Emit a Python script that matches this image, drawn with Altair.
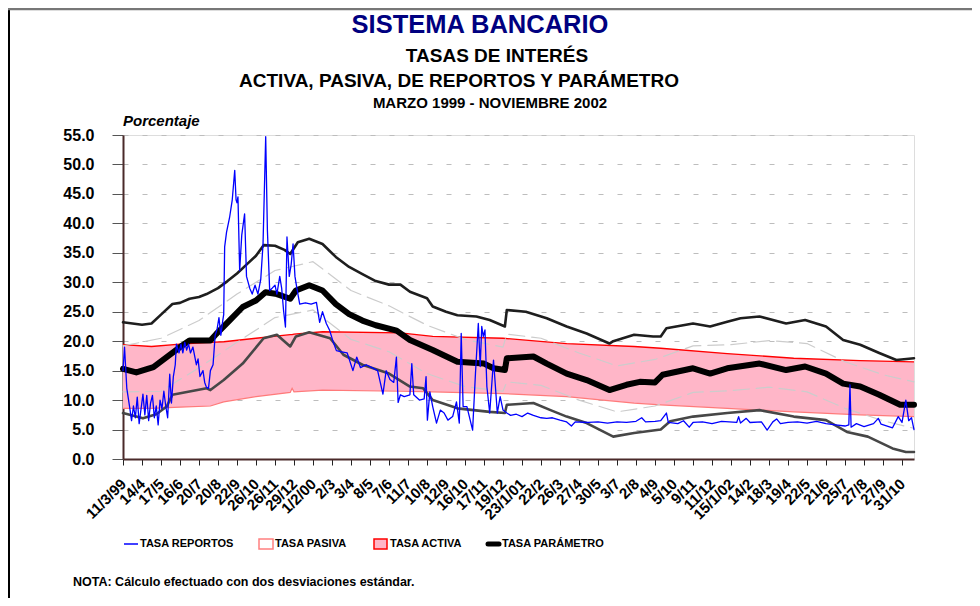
import altair as alt
import pandas as pd

# ---------------- data ----------------
X_LABELS = ["11/3/99", "14/4", "17/5", "16/6", "20/7", "20/8", "22/9", "26/10", "26/11",
            "29/12", "1/2/00", "2/3", "3/4", "8/5", "7/6", "11/7", "10/8", "12/9", "16/10",
            "17/11", "19/12", "23/1/01", "22/2", "26/3", "27/4", "30/5", "3/7", "2/8", "4/9",
            "5/10", "9/11", "11/12", "15/1/02", "14/2", "18/3", "19/4", "22/5", "21/6",
            "25/7", "27/8", "27/9", "31/10"]
X_END = 41.63

BAND_T = [0, 1.5, 3, 4.6, 5.3, 7.0, 8.8, 8.9, 9.0, 10.5, 14.6, 16.3, 20, 23.35, 26.9, 28.3,
          31.8, 35.3, 38.8, 41.63]
ACTIVA = [19.4, 19.1, 19.5, 19.8, 19.9, 20.5, 21.1, 21.1, 21.2, 21.6, 21.4, 20.8, 20.5,
          19.6, 19.1, 18.8, 17.9, 17.1, 16.7, 16.5]
PASIVA = [8.6, 8.6, 8.8, 9.0, 9.7, 10.6, 11.3, 12.0, 11.4, 11.7, 11.5, 11.4, 11.1, 10.6,
          9.5, 9.2, 8.6, 8.0, 7.5, 7.2]

PARAM_T = [0, 0.7, 1.6, 2.3, 3, 3.5, 4.6, 4.9, 5.6, 6.3, 7.0, 7.5, 8.1, 8.8, 9.1, 9.8,
           10.5, 11.2, 11.9, 12.6, 13.3, 14.4, 15.1, 16.3, 17.6, 19, 19.5, 20.1, 20.2,
           21.6, 22.3, 23.35, 24.4, 25.6, 26.5, 27.2, 28.0, 28.4, 30, 30.9, 31.8, 33.5,
           34.9, 35.9, 37, 37.9, 38.8, 39.8, 40.9, 41.63]
PARAM = [15.3, 14.7, 15.6, 17.3, 19.0, 20.1, 20.1, 21.2, 23.5, 25.8, 26.9, 28.3, 28.0,
         27.2, 28.6, 29.5, 28.6, 26.3, 24.6, 23.5, 22.7, 21.8, 20.2, 18.5, 16.5, 16.2,
         15.4, 15.1, 17.1, 17.4, 16.2, 14.5, 13.4, 11.7, 12.6, 13.1, 13.0, 14.3, 15.4,
         14.5, 15.4, 16.2, 15.1, 15.7, 14.5, 12.8, 12.3, 10.9, 9.2, 9.2]

UP2_T = [0, 1, 1.5, 2, 2.6, 3, 3.5, 4, 4.4, 5, 5.5, 6, 6.5, 7, 7.4, 8, 8.5, 8.8, 9.2,
         9.8, 10.5, 11.2, 11.9, 12.6, 13.3, 14, 14.6, 15.1, 16, 16.3, 17, 17.6, 18.6,
         19.3, 20.1, 20.2, 21.2, 22.3, 23.35, 24.4, 25.6, 25.8, 26.9, 27.9, 28.3, 28.6,
         30, 30.9, 31.8, 32.5, 33.5, 34.9, 35.9, 37, 37.9, 38.8, 39.8, 40.7, 41.63]
UP2 = [23.2, 22.8, 23.0, 24.5, 26.3, 26.5, 27.2, 27.5, 28.0, 29.0, 30.2, 31.5, 33.0,
       34.5, 36.3, 36.2, 35.5, 34.8, 36.8, 37.4, 36.5, 34.3, 32.6, 31.4, 30.2, 29.6,
       29.6, 28.4, 27.3, 25.9, 25.0, 24.4, 24.2, 23.6, 22.5, 25.3, 25.0, 23.9, 22.5,
       21.3, 19.6, 20.0, 21.1, 20.8, 20.8, 22.2, 23.0, 22.5, 23.3, 23.9, 24.2, 23.0,
       23.6, 22.5, 20.2, 19.4, 18.0, 16.8, 17.1]

LOW2_T = [0, 1.05, 1.75, 2.3, 2.6, 4.4, 4.6, 5.3, 6.3, 7.4, 8.1, 8.8, 9.1, 9.8, 10.9,
          11.6, 12.6, 14.0, 15.1, 15.8, 16.3, 17.6, 19.3, 20.1, 20.2, 21.6, 22.5, 23.35,
          24.4, 25.8, 26.9, 28.3, 28.8, 30, 31.8, 33.5, 35.3, 37, 38.1, 39.2, 40.5, 41.2,
          41.63]
LOW2 = [7.8, 6.9, 7.6, 8.9, 10.9, 12.0, 11.7, 13.4, 16.2, 20.5, 21.1, 19.1, 20.8, 21.5,
        20.5, 17.7, 16.0, 14.5, 12.3, 12.0, 10.0, 8.6, 8.0, 7.8, 9.2, 9.5, 8.3, 7.2, 6.1,
        3.8, 4.4, 5.0, 6.4, 7.2, 7.8, 8.3, 7.2, 6.6, 4.6, 3.8, 1.8, 1.2, 1.2]

SD1_T = [0, 2, 4, 6, 8, 10, 12, 14, 16, 18, 20, 20.2, 22, 24, 26, 28, 30, 32, 34, 36, 38,
         40, 41.63]
UP1 = [19.2, 20.5, 23.5, 28.0, 32.0, 33.5, 28.6, 26.0, 22.7, 20.3, 19.0, 21.2, 20.5, 18.0,
       15.8, 16.9, 19.2, 19.4, 20.1, 19.6, 16.5, 14.3, 13.1]
LOW1 = [11.4, 11.5, 15.5, 19.8, 24.0, 25.3, 20.3, 18.2, 14.5, 12.3, 11.5, 13.1, 12.5, 10.0,
        8.0, 9.0, 11.3, 11.6, 12.2, 11.4, 8.6, 6.5, 5.2]

REP_T = [0.0, 0.08, 0.2, 0.35, 0.45, 0.55, 0.65, 0.75, 0.85, 0.95, 1.05, 1.15, 1.25, 1.35,
         1.45, 1.55, 1.65, 1.75, 1.85, 1.95, 2.05, 2.15, 2.25, 2.35, 2.46, 2.55, 2.65,
         2.75, 2.81, 2.95, 3.05, 3.15, 3.25, 3.35, 3.45, 3.55, 3.68, 3.86, 3.95, 4.05,
         4.21, 4.3, 4.39, 4.5, 4.6, 4.74, 4.85, 4.95, 5.05, 5.15, 5.25, 5.3, 5.35, 5.45,
         5.61, 5.75, 5.88, 5.95, 6.0, 6.05, 6.14, 6.25, 6.4, 6.5, 6.67, 6.8, 6.95, 7.1,
         7.25, 7.37, 7.51, 7.6, 7.72, 7.85, 8.0, 8.1, 8.25, 8.35, 8.45, 8.55, 8.63, 8.75,
         8.85, 8.95, 9.05, 9.15, 9.3, 9.6, 9.9, 10.18, 10.35, 10.5, 10.7, 10.88, 11.05,
         11.23, 11.5, 11.8, 12.1, 12.3, 12.5, 12.8, 13.1, 13.4, 13.68, 13.85, 14.05,
         14.25, 14.39, 14.48, 14.6, 14.8, 15.1, 15.2, 15.3, 15.6, 15.85, 15.95, 16.02,
         16.15, 16.3, 16.5, 16.7, 16.9, 17.1, 17.35, 17.55, 17.7, 17.8, 17.9, 18.1, 18.4,
         18.55, 18.7, 18.8, 18.88, 18.96, 19.05, 19.15, 19.3, 19.5, 19.7, 19.85, 20.0,
         20.2, 20.4, 20.7, 21.0, 21.3, 21.6, 22.0, 22.3, 22.6, 23.0, 23.35, 23.6, 23.8,
         24.5, 25.0, 25.5, 26.0, 26.5, 27.0, 27.3, 27.5, 28.0, 28.3, 28.6, 28.7, 29.2,
         29.5, 29.8, 30.0, 30.5, 31.0, 31.5, 32.3, 32.4, 32.5, 32.8, 33.0, 33.6, 33.9,
         34.2, 34.4, 34.6, 35.0, 35.5, 36.0, 36.5, 37.0, 37.5, 38.0, 38.2, 38.26, 38.32,
         38.6, 39.0, 39.5, 39.75, 39.9, 40.5, 40.8, 41.0, 41.2, 41.35, 41.5, 41.63]
REPORTOS = [15.0, 19.0, 12.0, 8.8, 6.5, 9.0, 7.0, 10.5, 6.0, 8.5, 11.0, 7.5, 10.8, 6.5,
            9.5, 10.8, 7.0, 9.0, 5.8, 10.0, 8.5, 11.5, 9.0, 7.0, 14.4, 9.5, 14.0, 16.0,
            19.5, 18.0, 19.5, 18.0, 19.8, 18.5, 19.5, 18.0, 19.0, 16.0, 17.0, 14.0, 15.0,
            13.0, 12.2, 12.0, 15.0, 16.0, 21.0, 22.0, 24.0, 21.0, 23.5, 24.5, 36.0, 38.5,
            41.0, 44.0, 49.0, 44.0, 43.5, 44.5, 32.0, 38.0, 41.6, 31.0, 29.0, 28.0, 29.5,
            28.0, 30.5, 36.5, 54.7, 38.8, 28.6, 29.0, 29.5, 28.0, 31.0, 29.0, 25.2, 22.4,
            37.7, 31.0, 33.0, 36.5, 31.0, 29.0, 26.3, 26.5, 26.3, 26.6, 23.2, 25.0, 23.0,
            21.8, 20.0, 18.4, 18.2, 18.0, 15.0, 17.3, 15.5, 16.0, 15.5, 15.0, 11.0, 15.0,
            13.5, 13.0, 17.3, 9.6, 10.9, 10.6, 10.9, 16.2, 10.9, 10.0, 10.2, 14.0, 6.6,
            11.4, 8.9, 6.1, 8.3, 7.8, 6.6, 7.2, 9.7, 6.1, 21.3, 8.9, 8.9, 4.9, 14.5, 23.0,
            15.7, 22.5, 20.8, 21.9, 12.3, 7.8, 16.8, 7.8, 10.6, 8.3, 7.8, 7.4, 7.6, 7.2,
            7.8, 7.4, 7.0, 6.9, 7.0, 6.6, 6.3, 5.6, 6.3, 6.2, 6.3, 6.1, 6.3, 6.2, 6.4, 7.0,
            6.3, 6.4, 6.5, 7.8, 6.2, 6.0, 6.5, 5.4, 6.2, 6.3, 6.0, 6.4, 6.2, 7.2, 6.1, 6.9,
            6.2, 6.3, 4.9, 6.3, 6.8, 6.0, 6.2, 6.3, 6.1, 6.4, 6.0, 5.8, 5.6, 5.8, 12.6, 5.4,
            6.0, 5.5, 6.0, 6.9, 5.9, 5.3, 7.2, 6.2, 10.0, 6.5, 7.0, 5.0]

LEGEND_NAMES = ["TASA REPORTOS", "TASA PASIVA", "TASA ACTIVA", "TASA PARÁMETRO"]
TITLE = "SISTEMA BANCARIO"
SUBTITLE_1 = "TASAS DE INTERÉS"
SUBTITLE_2 = "ACTIVA, PASIVA, DE REPORTOS Y  PARÁMETRO"
SUBTITLE_3 = "MARZO 1999 - NOVIEMBRE 2002"
Y_TITLE = "Porcentaje"
NOTE = "NOTA: Cálculo efectuado con dos desviaciones estándar."

# ---------------- chart ----------------
FONT = "Liberation Sans"
W, H = 791, 324

xs = alt.Scale(domain=[0, X_END], nice=False, zero=False)
ys = alt.Scale(domain=[0, 55], nice=False)

label_js = "[" + ",".join("'" + s + "'" for s in X_LABELS) + "][datum.value]"

x_axis = alt.Axis(values=list(range(len(X_LABELS))), labelExpr=label_js, title=None,
                  grid=False, labelAngle=-45, labelAlign="right", labelBaseline="middle",
                  labelFont=FONT, labelFontSize=15, labelFontWeight="bold",
                  labelColor="#000", labelPadding=16, tickSize=6, tickColor="#222",
                  domainColor="#4a2a2a", domainWidth=2, labelOverlap=False,
                  labelBound=False, labelFlush=False)
y_axis = alt.Axis(values=list(range(0, 56, 5)), format=".1f", title=None, grid=True,
                  gridDash=[5, 14], gridColor="#bdbdbd", gridWidth=1.2,
                  labelFont=FONT, labelFontSize=16, labelFontWeight="bold",
                  labelColor="#000", labelPadding=18, tickSize=11, tickColor="#555",
                  domainColor="#4a2a2a", domainWidth=2, labelOverlap=False,
                  labelFlush=False, labelBound=False)


def X(field):
    return alt.X(field, type="quantitative", scale=xs, axis=x_axis)


def Y(field):
    return alt.Y(field, type="quantitative", scale=ys, axis=y_axis)


def series_df(t, v):
    return pd.DataFrame({"t": t, "v": v})


band_df = pd.DataFrame({"t": BAND_T, "a": ACTIVA, "p": PASIVA})

band = alt.Chart(band_df).mark_area(color="#ffb6c8").encode(x=X("t"), y=Y("p"), y2="a:Q")
pasiva_line = alt.Chart(band_df).mark_line(color="#ff7a7a", strokeWidth=1.2).encode(
    x=X("t"), y=Y("p"))
activa_line = alt.Chart(band_df).mark_line(color="#ff0000", strokeWidth=1.3).encode(
    x=X("t"), y=Y("a"))


def line(t, v, color, width, dash=None):
    kw = dict(color=color, strokeWidth=width, strokeJoin="round", strokeCap="round")
    if dash:
        kw["strokeDash"] = dash
    return alt.Chart(series_df(t, v)).mark_line(**kw).encode(x=X("t"), y=Y("v"))


up1 = line(SD1_T, UP1, "#cccccc", 1.2, [16, 7])
low1 = line(SD1_T, LOW1, "#cccccc", 1.2, [16, 7])
low2 = line(LOW2_T, LOW2, "#474747", 2.6)
up2 = line(UP2_T, UP2, "#1e1e1e", 2.6)
param = line(PARAM_T, PARAM, "#000000", 6)
rep = line(REP_T, REPORTOS, "#0000ff", 1.3)

one = pd.DataFrame({"k": [0]})


def text(txt, x, y, size, align="center", color="#000", style="normal", baseline="middle"):
    return alt.Chart(one).mark_text(
        text=txt, font=FONT, fontSize=size, fontWeight="bold", fontStyle=style,
        color=color, align=align, baseline=baseline).encode(
        x=alt.value(x), y=alt.value(y))


texts = [
    text(TITLE, 357, -110, 25.5, color="#000080"),
    text(SUBTITLE_1, 374, -79, 19),
    text(SUBTITLE_2, 336, -54, 19),
    text(SUBTITLE_3, 367, -32, 15),
    text(Y_TITLE, 0, -14, 15, align="left", style="italic"),
    text(LEGEND_NAMES[0], 17, 409, 11, align="left"),
    text(LEGEND_NAMES[1], 152, 409, 11, align="left"),
    text(LEGEND_NAMES[2], 267, 409, 11, align="left"),
    text(LEGEND_NAMES[3], 379, 409, 11, align="left"),
    text(NOTE, -50, 447, 12.5, align="left"),
]

leg_rep = alt.Chart(one).mark_rule(color="#0000ff", strokeWidth=1.5).encode(
    x=alt.value(1), x2=alt.value(15), y=alt.value(409))
leg_par = alt.Chart(one).mark_rule(color="#000", strokeWidth=5, strokeCap="round").encode(
    x=alt.value(365), x2=alt.value(376), y=alt.value(409))
leg_pas = alt.Chart(one).mark_rect(fill="#ffffff", stroke="#ff8080", strokeWidth=1.5).encode(
    x=alt.value(136), x2=alt.value(150), y=alt.value(404), y2=alt.value(414))
leg_act = alt.Chart(one).mark_rect(fill="#ffb6c8", stroke="#ff0000", strokeWidth=1.5).encode(
    x=alt.value(251), x2=alt.value(264), y=alt.value(404), y2=alt.value(414))

frame_left = alt.Chart(one).mark_rule(color="#000", strokeWidth=2).encode(
    x=alt.value(-114), y=alt.value(-127), y2=alt.value(470))
frame_top = alt.Chart(one).mark_rule(color="#777", strokeWidth=2.5).encode(
    x=alt.value(-115), x2=alt.value(860), y=alt.value(-126))

chart = alt.layer(
    band, pasiva_line, activa_line, up1, low1, low2, up2, param, rep,
    leg_rep, leg_par, leg_pas, leg_act, frame_left, frame_top, *texts
).properties(
    width=W, height=H,
    autosize=alt.AutoSizeParams(type="none"),
    padding={"left": 115, "top": 127, "right": 58, "bottom": 139},
).configure_view(stroke="#222", strokeWidth=1.5).configure(background="white")

chart.save("out.html", embed_options={"renderer": "svg", "actions": False})
